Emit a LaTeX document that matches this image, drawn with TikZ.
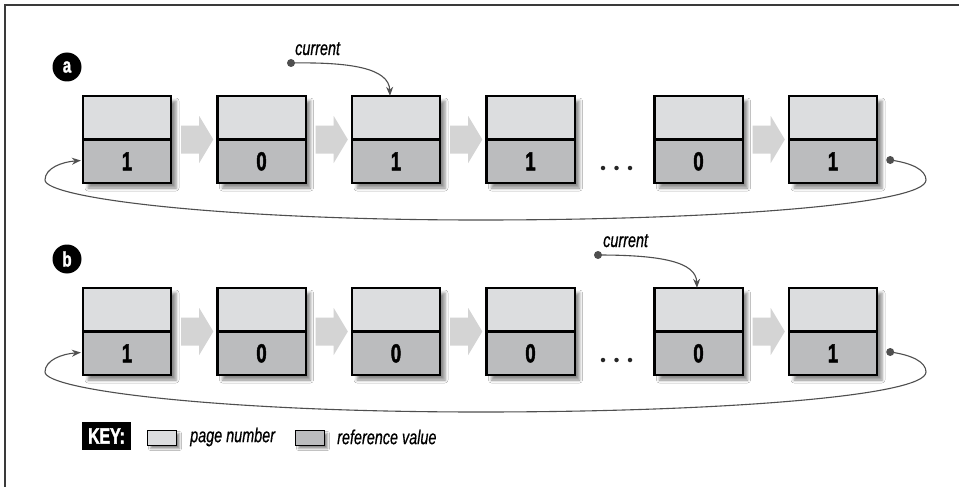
\documentclass[tikz,border=0pt]{standalone}
\usepackage{fontspec}
\setmainfont{Liberation Sans}[FakeStretch=0.72]
\usetikzlibrary{shadows.blur,calc,arrows.meta}
\definecolor{pagegray}{HTML}{DCDDDF}
\definecolor{refgray}{HTML}{BBBCBE}
\definecolor{arrowgray}{HTML}{D4D4D4}
\definecolor{linegray}{HTML}{4F4F4F}
\definecolor{framegray}{HTML}{3A3A3A}
\tikzset{
  cellbox/.style={rectangle, minimum width=88pt, minimum height=87pt, inner sep=0pt,
    fill=pagegray, blur shadow={shadow xshift=5pt, shadow yshift=-5pt, shadow blur radius=3pt, shadow opacity=45}},
  cellline/.style={line width=2.4pt, black},
  digit/.style={font=\fontsize{26}{26}\selectfont\bfseries\addfontfeature{FakeBold=1.6}, text=black},
  circlabel/.style={circle, fill=black, minimum size=29pt, inner sep=0pt, text=white,
    font=\fontsize{21}{21}\selectfont\bfseries\addfontfeature{FakeBold=1.2}},
  curlabel/.style={font=\fontsize{20}{20}\selectfont\itshape\addfontfeature{FakeBold=0.6}, inner sep=0pt, text=black},
  dotnode/.style={circle, fill=linegray, minimum size=8pt, inner sep=0pt},
  ellipsisdot/.style={circle, fill=black!85, minimum size=4.5pt, inner sep=0pt},
  ptr/.style={linegray, line width=1.1pt, -{Stealth[length=9pt,width=7pt]}},
  keybox/.style={rectangle, fill=black, text=white, minimum width=49pt, minimum height=28pt,
    inner sep=0pt, font=\fontsize{22}{22}\selectfont\bfseries\addfontfeature{FakeBold=1.8}},
  swatch/.style={rectangle, draw=black, line width=1.6pt, minimum width=29pt, minimum height=15pt,
    inner sep=0pt, blur shadow={shadow xshift=3pt, shadow yshift=-3pt, shadow blur radius=2pt, shadow opacity=45}},
  keytext/.style={font=\fontsize{20}{20}\selectfont\itshape\addfontfeature{FakeBold=0.6}, inner sep=0pt, anchor=west, text=black},
}
\newcommand{\cellnode}[4]{%
  \node[cellbox] (#1) at (#2,#3) {};
  \fill[refgray] (#1.west) rectangle (#1.south east);
  \draw[cellline] (#1.north west) rectangle (#1.south east);
  \draw[cellline] (#1.west) -- (#1.east);
  \node[digit] (#1d) at ($(#1.west)!0.5!(#1.south east)$) {#4};
}
\newcommand{\flowarrow}[2]{%
  \fill[arrowgray] ($(#1.east)+(10,-14)$) -- ++(18,0) -- ++(0,-9.5) -- ($(#2.west)+(-4,0)$)
    -- ($(#1.east)+(28,23.5)$) -- ++(0,-9.5) -- ++(-18,0) -- cycle;
}
\newcommand{\ellipsisdots}[1]{%
  \node[ellipsisdot] (#1x) at (603,168) {};
  \node[ellipsisdot] (#1y) at (616.5,168) {};
  \node[ellipsisdot] (#1z) at (630,168) {};
}
\newcommand{\loopback}[2]{%
  \node[dotnode] (#1dot) at ($(#1.east)+(13,20.5)$) {};
  \draw[ptr] (#1dot.center) .. controls (912,163) and (926,170) .. (926,180)
     .. controls (926,204) and (720,220) .. (480,220)
     .. controls (220,220) and (45,198) .. (45,180)
     .. controls (45,168) and (62,162) .. ($(#2.west)+(-2,21)$);
}
\begin{document}
\begin{tikzpicture}[x=1pt,y=-1pt]
\useasboundingbox (0,0) rectangle (959,487);
\fill[white] (0,0) rectangle (959,487);
\draw[framegray, line width=1.6pt] (5,487) -- (5,5) -- (959,5);

% ---------- row a ----------
\begin{scope}
  \node[circlabel] (labA) at (67,67) {a};
  \cellnode{a1}{127}{139.5}{1}
  \cellnode{a2}{261.5}{139.5}{0}
  \cellnode{a3}{396}{139.5}{1}
  \cellnode{a4}{530.5}{139.5}{1}
  \cellnode{a5}{698.5}{139.5}{0}
  \cellnode{a6}{833}{139.5}{1}
  \flowarrow{a1}{a2}
  \flowarrow{a2}{a3}
  \flowarrow{a3}{a4}
  \flowarrow{a5}{a6}
  \ellipsisdots{ea}
  \loopback{a6}{a1}
  \node[curlabel, anchor=base west] (curA) at (295,55) {current};
  \node[dotnode] (curAdot) at (291,63) {};
  \draw[ptr] (curAdot.center) .. controls (350,62) and (389,68) .. ($(a3.north)+(-6,0)$);
\end{scope}

% ---------- row b ----------
\begin{scope}[yshift=-192pt]
  \node[circlabel] (labB) at (67,67) {b};
  \cellnode{b1}{127}{139.5}{1}
  \cellnode{b2}{261.5}{139.5}{0}
  \cellnode{b3}{396}{139.5}{0}
  \cellnode{b4}{530.5}{139.5}{0}
  \cellnode{b5}{698.5}{139.5}{0}
  \cellnode{b6}{833}{139.5}{1}
  \flowarrow{b1}{b2}
  \flowarrow{b2}{b3}
  \flowarrow{b3}{b4}
  \flowarrow{b5}{b6}
  \ellipsisdots{eb}
  \loopback{b6}{b1}
  \node[curlabel, anchor=base west] (curB) at (603,55) {current};
  \node[dotnode] (curBdot) at (598,63) {};
  \draw[ptr] (curBdot.center) .. controls (662,63) and (696,70) .. ($(b5.north)+(-1.5,0)$);
\end{scope}

% ---------- key ----------
\node[keybox] (key) at (106.5,436) {KEY:};
\node[swatch, fill=pagegray] (sw1) at (162,438) {};
\node[keytext] (kt1) at (190,437) {page number};
\node[swatch, fill=refgray] (sw2) at (310,438) {};
\node[keytext] (kt2) at (337,437) {reference value};
\end{tikzpicture}
\end{document}
